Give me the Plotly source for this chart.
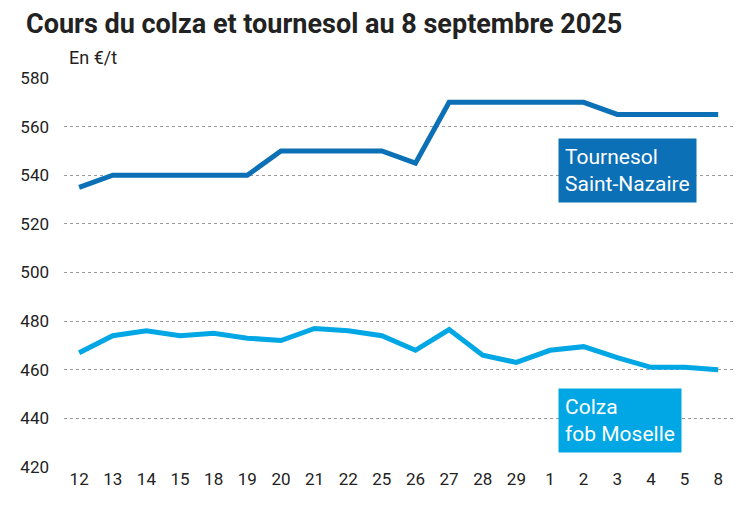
from plotly import graph_objects as go

days = ["12", "13", "14", "15", "18", "19", "20", "21", "22", "25",
        "26", "27", "28", "29", "1", "2", "3", "4", "5", "8"]
tournesol = [535, 540, 540, 540, 540, 540, 550, 550, 550, 550,
             545, 570, 570, 570, 570, 570, 565, 565, 565, 565]
colza = [467, 474, 476, 474, 475, 473, 472, 477, 476, 474,
         468, 476.5, 466, 463, 468, 469.5, 465, 461, 461, 460]

x = list(range(len(days)))
dark = "#0b70b5"
light = "#00a7e4"

fig = go.Figure()
fig.add_trace(go.Scatter(x=x, y=tournesol, mode="lines",
                         line=dict(color=dark, width=5)))
fig.add_trace(go.Scatter(x=x, y=colza, mode="lines",
                         line=dict(color=light, width=5)))

fig.update_layout(
    width=747, height=513,
    margin=dict(l=52, r=20, t=70, b=54),
    plot_bgcolor="white", paper_bgcolor="white",
    showlegend=False,
    font=dict(family="Roboto", size=17, color="#222"),
    xaxis=dict(tickmode="array", tickvals=x, ticktext=days,
               range=[-0.45, 19.5], showgrid=False, zeroline=False,
               showline=False, ticks=""),
    yaxis=dict(range=[420, 580], dtick=20, showgrid=True,
               gridcolor="#999", griddash="dot", gridwidth=1,
               zeroline=False, ticks="", ticklabelstandoff=14),
)

fig.add_annotation(text="<b>Cours du colza et tournesol au 8 septembre 2025</b>",
                   xref="paper", yref="paper", x=-0.06, y=1.0, yshift=72,
                   xanchor="left", yanchor="top", showarrow=False,
                   font=dict(size=27, color="#222"))
fig.add_annotation(text="En €/t", xref="paper", yref="paper",
                   x=0.005, y=1.0, yshift=21, xanchor="left",
                   yanchor="middle", showarrow=False, font=dict(size=18))

fig.add_annotation(text="Tournesol<br>Saint-Nazaire", x=14.23, y=542,
                   xanchor="left", yanchor="middle", align="left",
                   showarrow=False, bgcolor=dark, borderpad=6,
                   font=dict(color="white", size=21))
fig.add_annotation(text="Colza<br>fob Moselle", x=14.23, y=439,
                   xanchor="left", yanchor="middle", align="left",
                   showarrow=False, bgcolor=light, borderpad=6,
                   font=dict(color="white", size=21))

for label, pos in [("août", 6.8), ("sept.", 16.6)]:
    fig.add_annotation(text=label, x=pos, y=0, xref="x", yref="paper",
                       yshift=-40, yanchor="top", showarrow=False,
                       font=dict(size=17))

fig.write_html("out.html")
